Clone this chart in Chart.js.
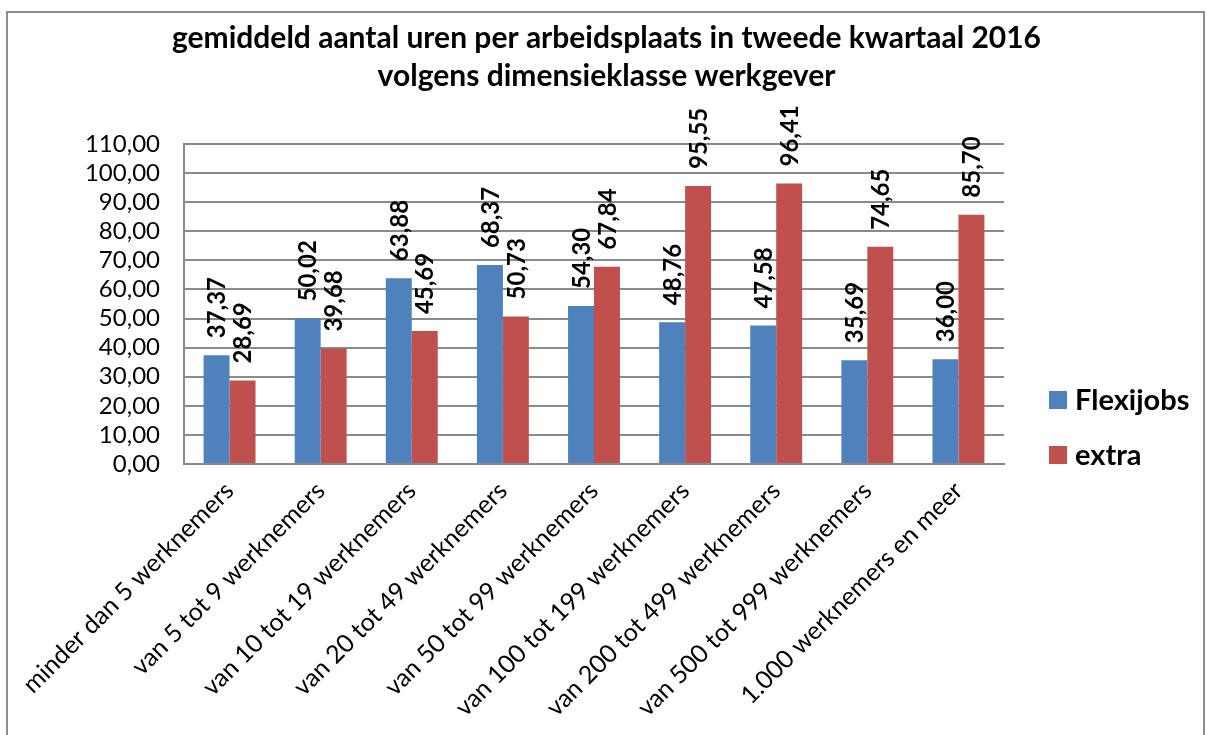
<!DOCTYPE html>
<html lang="nl">
<head>
    <meta charset="UTF-8">
    <title>Gemiddeld aantal uren per arbeidsplaats</title>
    <script src="https://cdn.jsdelivr.net/npm/chart.js"></script>
    <style>
        body {
            margin: 0;
            padding: 0;
            background: #ffffff;
            overflow: hidden;
        }

        .frame {
            position: absolute;
            left: 6px;
            top: 11px;
            width: 1195px;
            height: 800px;
            border: 2px solid #8c8c8c;
        }

        .wrap {
            position: absolute;
            left: 0;
            top: 0;
            width: 1207px;
            height: 735px;
        }
    </style>
</head>
<body>
    <div class="frame"></div>
    <div class="wrap">
        <canvas id="chart" width="1207" height="735"></canvas>
    </div>

    <script>
        const categories = [
            'minder dan 5 werknemers',
            'van 5 tot 9 werknemers',
            'van 10 tot 19 werknemers',
            'van 20 tot 49 werknemers',
            'van 50 tot 99 werknemers',
            'van 100 tot 199 werknemers',
            'van 200 tot 499 werknemers',
            'van 500 tot 999 werknemers',
            '1.000 werknemers en meer'
        ];
        const flexijobs = [37.37, 50.02, 63.88, 68.37, 54.30, 48.76, 47.58, 35.69, 36.00];
        const extra = [28.69, 39.68, 45.69, 50.73, 67.84, 95.55, 96.41, 74.65, 85.70];

        const yMin = 0;
        const yMax = 110;
        const yStep = 10;

        const fmt = v => v.toFixed(2).replace('.', ',');
        const FONT = 'Lato, "Open Sans", sans-serif';
        const GRID = '#8a8a8a';

        // value labels, rotated, above every bar
        const valueLabels = {
            id: 'valueLabels',
            afterDatasetsDraw(chart) {
                const ctx = chart.ctx;
                ctx.save();
                ctx.font = 'bold 24px ' + FONT;
                ctx.fillStyle = '#000';
                ctx.textAlign = 'left';
                ctx.textBaseline = 'middle';
                chart.data.datasets.forEach((ds, i) => {
                    chart.getDatasetMeta(i).data.forEach((bar, j) => {
                        ctx.save();
                        ctx.translate(bar.x + 1, bar.y - 17);
                        ctx.rotate(-Math.PI / 2);
                        ctx.fillText(fmt(ds.data[j]), 0, 0);
                        ctx.restore();
                    });
                });
                ctx.restore();
            }
        };

        // legend on the right side
        const sideLegend = {
            id: 'sideLegend',
            afterDraw(chart) {
                const ctx = chart.ctx;
                const x = chart.chartArea.right + 45;
                const ys = [400, 455];
                ctx.save();
                ctx.font = 'bold 29px ' + FONT;
                ctx.textBaseline = 'middle';
                ctx.textAlign = 'left';
                chart.data.datasets.forEach((ds, i) => {
                    ctx.fillStyle = ds.backgroundColor;
                    ctx.fillRect(x, ys[i] - 9, 18, 18);
                    ctx.fillStyle = '#000';
                    ctx.fillText(ds.label, x + 26, ys[i] + 1);
                });
                ctx.restore();
            }
        };

        new Chart(document.getElementById('chart'), {
            type: 'bar',
            data: {
                labels: categories,
                datasets: [
                    { label: 'Flexijobs', data: flexijobs, backgroundColor: '#4F81BD', yAxisID: 'y' },
                    { label: 'extra', data: extra, backgroundColor: '#C0504D', yAxisID: 'y' }
                ]
            },
            options: {
                responsive: false,
                animation: false,
                devicePixelRatio: 1,
                layout: { padding: { left: 10, right: 4, top: 0, bottom: 0 } },
                datasets: {
                    bar: { categoryPercentage: 0.57, barPercentage: 1.0 }
                },
                plugins: {
                    legend: { display: false },
                    tooltip: { enabled: false },
                    title: {
                        display: true,
                        text: [
                            'gemiddeld aantal uren per arbeidsplaats in tweede kwartaal 2016',
                            'volgens dimensieklasse werkgever'
                        ],
                        color: '#000',
                        font: { family: FONT, size: 30, weight: 'bold', lineHeight: 1.25 },
                        padding: { top: 20, bottom: 49 }
                    }
                },
                scales: {
                    x: {
                        grid: { display: false, drawTicks: false },
                        border: { display: true, color: GRID, width: 2 },
                        ticks: {
                            color: '#000',
                            font: { family: FONT, size: 25 },
                            autoSkip: false,
                            minRotation: 45,
                            maxRotation: 45,
                            padding: 12
                        },
                        afterFit(s) { s.height = 271; }
                    },
                    y: {
                        min: yMin,
                        max: yMax,
                        ticks: {
                            stepSize: yStep,
                            autoSkip: false,
                            color: '#000',
                            font: { family: FONT, size: 24 },
                            padding: 24,
                            callback: v => fmt(v)
                        },
                        grid: { color: GRID, lineWidth: 2, drawTicks: false },
                        border: { display: true, color: GRID, width: 2 },
                        afterFit(s) { s.width = 174; }
                    },
                    y2: {
                        position: 'right',
                        display: true,
                        grid: { display: false, drawTicks: false },
                        border: { display: false },
                        ticks: { display: false },
                        afterFit(s) { s.width = 199; }
                    }
                }
            },
            plugins: [valueLabels, sideLegend]
        });
    </script>
</body>
</html>
